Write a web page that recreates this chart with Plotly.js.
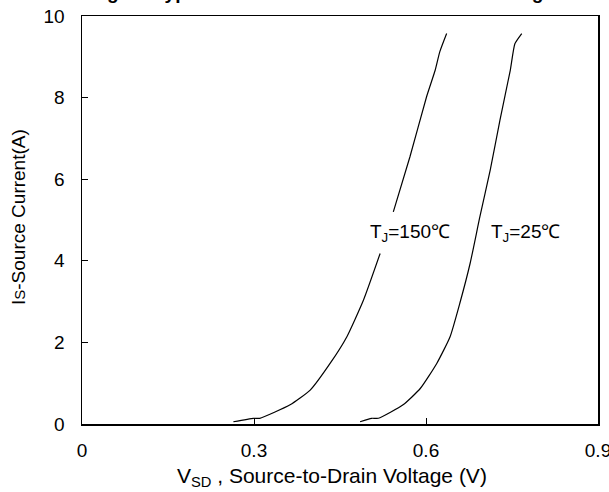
<!DOCTYPE html>
<html>
<head>
<meta charset="utf-8">
<script src="https://cdn.plot.ly/plotly-3.0.1.min.js"></script>
<style>html,body{margin:0;padding:0;background:#fff;}#chart{width:609px;height:492px;}</style>
</head>
<body>
<div id="chart"></div>
<script>
// Data
const vsd150 = [0.264, 0.299, 0.310, 0.363, 0.398, 0.433, 0.462, 0.491, 0.520, null, 0.543, 0.572, 0.601, 0.616, 0.624, 0.636];
const is150  = [0.056, 0.14, 0.14, 0.47, 0.83, 1.49, 2.14, 3.04, 4.18, null, 5.20, 6.55, 8.02, 8.67, 9.12, 9.57];
const vsd25  = [0.485, 0.505, 0.517, 0.560, 0.590, 0.619, 0.642, 0.659, 0.677, 0.694, 0.712, 0.729, 0.747, 0.755, 0.767];
const is25   = [0.056, 0.14, 0.14, 0.47, 0.87, 1.49, 2.14, 2.96, 3.94, 5.08, 6.22, 7.45, 8.67, 9.32, 9.57];
const xTickVals = [0, 0.3, 0.6, 0.9];
const xTickText = ["0", "0.3", "0.6", "0.9"];
const yTickVals = [0, 2, 4, 6, 8, 10];
const yTickText = ["0", "2", "4", "6", "8", "10"];
const label150 = "T<sub>J</sub>=150℃";
const label25 = "T<sub>J</sub>=25℃";

const FONT = "Liberation Sans, Arial, sans-serif";
const lineStyle = {color: "#000", width: 1.2, shape: "spline", smoothing: 0.5};

const traces = [
  {x: vsd150, y: is150, mode: "lines", line: lineStyle, connectgaps: false, showlegend: false, hoverinfo: "skip"},
  {x: vsd25, y: is25, mode: "lines", line: lineStyle, showlegend: false, hoverinfo: "skip"}
];

const axisCommon = {
  showgrid: false, zeroline: false, showline: true, linecolor: "#000", linewidth: 1.5,
  mirror: true, ticks: "inside", ticklen: 6, tickwidth: 1, tickcolor: "#000",
  tickfont: {family: FONT, size: 19, color: "#000"}, tickmode: "array",
  ticklabeloverflow: "allow"
};

const layout = {
  width: 609, height: 492,
  margin: {l: 82, r: 11, t: 16, b: 68},
  paper_bgcolor: "#fff", plot_bgcolor: "#fff",
  xaxis: Object.assign({}, axisCommon, {range: [0, 0.9], tickvals: xTickVals, ticktext: xTickText, ticklabelstandoff: 9}),
  yaxis: Object.assign({}, axisCommon, {range: [0, 10], tickvals: yTickVals, ticktext: yTickText, ticklabelstandoff: 12}),
  annotations: [
    {text: label150, x: 0.572, y: 4.68, xref: "x", yref: "y", showarrow: false,
     font: {family: FONT, size: 19, color: "#000"}},
    {text: label25, x: 0.775, y: 4.68, xref: "x", yref: "y", showarrow: false,
     font: {family: FONT, size: 19, color: "#000"}},
    {text: "V<sub>SD</sub> , Source-to-Drain Voltage (V)", xref: "paper", yref: "paper",
     x: (332 - 82) / 516, y: 0, yshift: -53, showarrow: false, xanchor: "center", yanchor: "middle",
     font: {family: FONT, size: 21, color: "#000"}},
    {text: "I<span style=\"font-size:15px\">S</span>-Source Current(A)", xref: "paper", yref: "paper",
     x: 0, xshift: -64, y: (424 - 217) / 408, showarrow: false, textangle: -90, xanchor: "center", yanchor: "middle",
     font: {family: FONT, size: 19, color: "#000"}},
    {text: "<b>Fig.11  Typical Source-Drain Diode Forward Voltage</b>", xref: "paper", yref: "paper",
     x: 6 / 516, y: 1, yshift: 24, showarrow: false, xanchor: "left", yanchor: "middle",
     font: {family: FONT, size: 19, color: "#000"}}
  ]
};

Plotly.newPlot("chart", traces, layout, {staticPlot: true, displayModeBar: false});
</script>
</body>
</html>
